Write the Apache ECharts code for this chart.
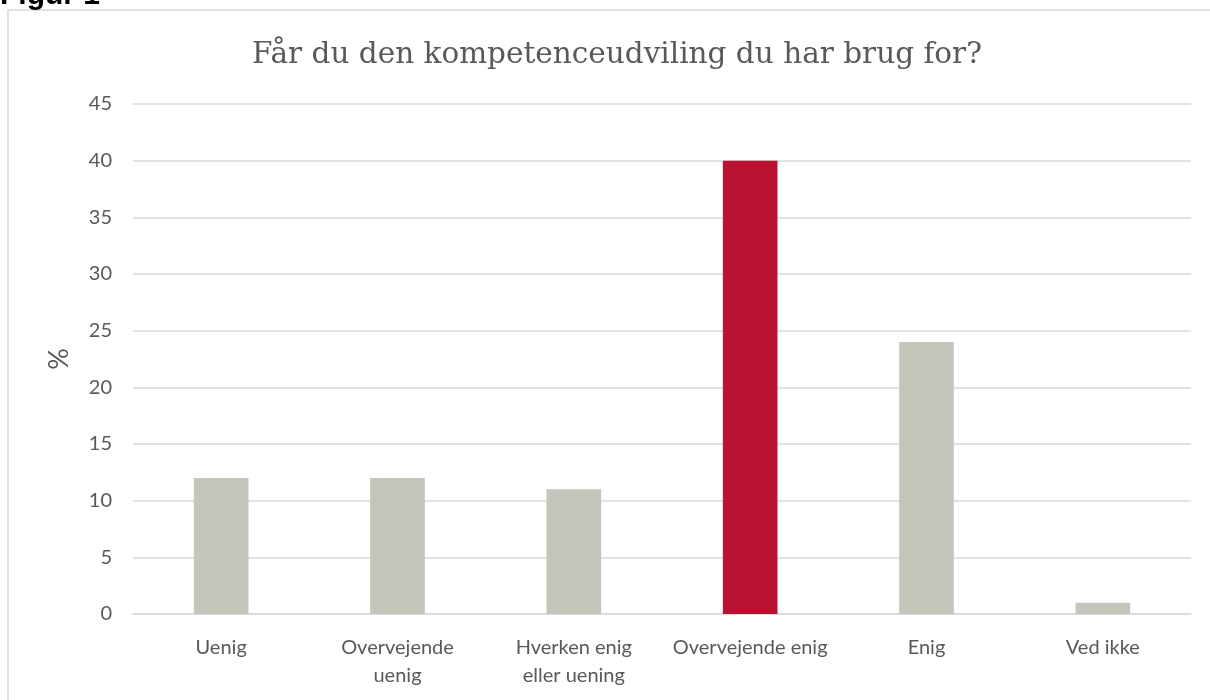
<!DOCTYPE html>
<html>
<head>
<meta charset="utf-8">
<script src="https://cdn.jsdelivr.net/npm/echarts@6/dist/echarts.min.js"></script>
<style>
  html, body { margin: 0; padding: 0; background: #fff; }
  #chart { width: 1210px; height: 700px; }
</style>
</head>
<body>
<div id="chart"></div>
<script>
// data
const categories = ["Uenig", "Overvejende\nuenig", "Hverken enig\neller uening", "Overvejende enig", "Enig", "Ved ikke"];
const values = [12, 12, 11, 40, 24, 1];
const highlightIndex = 3;
const yTicks = { min: 0, max: 45, interval: 5 };

const grey = "#c5c5bc";
const red = "#b91233";
const textColor = "#595959";
const labelFont = "Lato";

let chart = echarts.init(document.getElementById("chart"));
chart.setOption({
  animation: false,
  title: {
    text: "Får du den kompetenceudviling du har brug for?",
    left: 247,
    top: 35,
    textStyle: {
      fontFamily: "DejaVu Serif",
      fontWeight: "normal",
      fontSize: 29.5,
      color: textColor,
    },
  },
  graphic: [
    {
      type: "rect",
      shape: { x: 8, y: 10, width: 1220, height: 720 },
      style: { fill: "none", stroke: "#d9d9d9", lineWidth: 1.5 },
    },
    {
      type: "text",
      left: 0,
      top: -19,
      style: {
        text: "Figur 1",
        font: "bold 30px 'Liberation Sans'",
        fill: "#000",
      },
    },
  ],
  grid: {
    left: 133,
    right: 19,
    top: 104,
    bottom: 86,
  },
  xAxis: {
    type: "category",
    data: categories,
    axisTick: { show: false },
    axisLine: { lineStyle: { color: "#d9d9d9", width: 1.5 } },
    axisLabel: {
      color: textColor,
      fontFamily: labelFont,
      fontSize: 20,
      lineHeight: 28,
      margin: 20,
      interval: 0,
    },
  },
  yAxis: {
    type: "value",
    min: yTicks.min,
    max: yTicks.max,
    interval: yTicks.interval,
    name: "%",
    nameLocation: "middle",
    nameGap: 60,
    nameTextStyle: {
      color: textColor,
      fontFamily: labelFont,
      fontSize: 27,
    },
    axisLine: { show: false },
    axisTick: { show: false },
    axisLabel: {
      color: textColor,
      fontFamily: labelFont,
      fontSize: 20,
      margin: 21,
    },
    splitLine: { lineStyle: { color: "#d9d9d9", width: 1.5 } },
  },
  series: [
    {
      type: "bar",
      barWidth: "31%",
      data: values.map((v, i) => ({
        value: v,
        itemStyle: { color: i === highlightIndex ? red : grey },
      })),
    },
  ],
});
</script>
</body>
</html>
